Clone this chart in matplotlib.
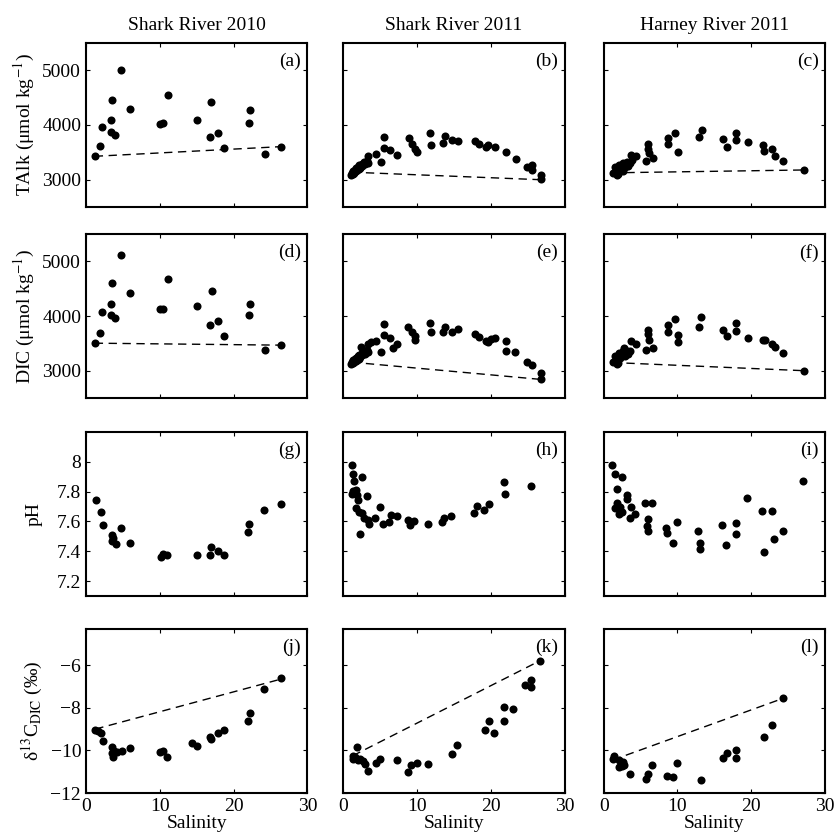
import matplotlib
matplotlib.use('Agg')
import matplotlib.pyplot as plt

plt.rcParams['font.family'] = ['Liberation Serif', 'DejaVu Serif']
plt.rcParams['mathtext.fontset'] = 'stix'
plt.rcParams['font.size'] = 14

# ============================================================
# Data (salinity vs carbonate parameters)
# ============================================================

# (a) TAlk, Shark River 2010
s_a = [1.18, 1.86, 2.17, 3.39, 3.53, 3.39, 3.98, 4.71, 5.93, 10.05, 10.4, 11.04,
       15.07, 16.97, 16.83, 17.87, 18.73, 22.08, 22.22, 24.2, 26.47]
y_a = [3427, 3610, 3957, 4085, 4463, 3872, 3811, 5000, 4293, 4012, 4030, 4555,
       4085, 4421, 3774, 3860, 3573, 4043, 4274, 3470, 3604]
mix_s_a = [1.18, 26.47]
mix_y_a = [3427, 3604]

# (b) TAlk, Shark River 2011
s_b = [1.1, 1.2, 1.3, 1.4, 1.5, 1.6, 1.7, 1.8, 1.9, 2.0, 2.1, 2.2, 2.3, 2.5, 2.6,
       2.8, 3.0, 3.2, 3.4, 3.32, 4.44, 5.07, 5.56, 5.6, 6.33, 7.31, 8.88, 9.33,
       9.69, 10.0, 11.71, 11.94, 13.59, 13.77, 14.8, 15.57, 17.8, 18.44, 19.34,
       19.65, 20.55, 22.03, 23.38, 24.86, 25.53, 25.62, 26.74, 26.74]
y_b = [3090, 3130, 3100, 3160, 3130, 3180, 3150, 3210, 3170, 3240, 3190, 3260, 3220,
       3290, 3250, 3320, 3280, 3350, 3300, 3427, 3476, 3317, 3780, 3586, 3537, 3451,
       3768, 3659, 3555, 3500, 3860, 3628, 3671, 3806, 3733, 3702, 3707, 3659, 3597,
       3628, 3597, 3500, 3385, 3232, 3275, 3171, 3079, 3006]
mix_s_b = [1.2, 26.7]
mix_y_b = [3136, 2999]

# (c) TAlk, Harney River 2011
s_c = [1.32, 1.68, 1.54, 1.99, 2.21, 2.44, 2.66, 2.13, 2.89, 3.11, 3.33, 3.56, 3.78,
       2.66, 1.86, 3.69, 4.36, 5.7, 6.02, 6.02, 6.15, 6.69, 8.7, 8.7, 9.6, 10.09,
       12.91, 13.27, 16.22, 16.67, 17.96, 17.96, 19.53, 21.54, 21.77, 22.84, 23.24,
       24.23, 27.14]
y_c = [3122, 3153, 3226, 3104, 3196, 3257, 3300, 3275, 3226, 3318, 3257, 3300, 3361,
       3165, 3080, 3459, 3434, 3349, 3654, 3563, 3489, 3398, 3765, 3654, 3850, 3502,
       3771, 3899, 3746, 3593, 3856, 3734, 3685, 3642, 3520, 3563, 3428, 3343, 3177]
mix_s_c = [1.2, 27.14]
mix_y_c = [3125, 3177]

# (d) DIC, Shark River 2010
s_d = [1.18, 1.86, 2.17, 3.39, 3.53, 3.35, 3.98, 4.71, 5.93, 10.0, 10.45, 11.04,
       15.07, 17.01, 16.83, 17.87, 18.73, 22.08, 22.22, 24.2, 26.47]
y_d = [3503, 3691, 4067, 4218, 4606, 4012, 3958, 5109, 4412, 4133, 4133, 4679,
       4176, 4461, 3842, 3915, 3636, 4018, 4218, 3370, 3467]
mix_s_d = [1.18, 26.47]
mix_y_d = [3503, 3467]

# (e) DIC, Shark River 2011
s_e = [1.1, 1.2, 1.3, 1.4, 1.5, 1.6, 1.7, 1.8, 1.9, 2.0, 2.1, 2.2, 2.3, 2.5, 2.6,
       2.8, 3.0, 3.2, 3.4, 2.42, 3.41, 3.72, 4.44, 5.07, 5.56, 5.6, 6.33, 6.69, 7.36,
       8.84, 9.33, 9.78, 9.69, 11.71, 11.94, 13.55, 13.73, 14.8, 15.52, 17.9, 18.44,
       19.34, 19.56, 20.01, 20.55, 22.03, 22.03, 23.28, 24.86, 25.53, 26.74, 26.8]
y_e = [3130, 3160, 3140, 3190, 3160, 3210, 3180, 3240, 3200, 3270, 3220, 3290, 3250,
       3320, 3280, 3350, 3310, 3380, 3340, 3442, 3485, 3527, 3545, 3345, 3855, 3655,
       3606, 3418, 3485, 3800, 3703, 3642, 3558, 3879, 3709, 3715, 3794, 3715, 3764,
       3667, 3612, 3545, 3533, 3582, 3594, 3545, 3352, 3333, 3152, 3109, 2952, 2848]
mix_s_e = [1.2, 26.8]
mix_y_e = [3155, 2840]

# (f) DIC, Harney River 2011
s_f = [1.32, 1.68, 1.54, 1.99, 2.21, 2.44, 2.66, 2.13, 2.89, 3.11, 3.33, 3.56, 2.75,
       1.77, 3.65, 4.36, 5.7, 6.02, 6.02, 6.15, 6.69, 8.7, 8.7, 9.6, 10.09, 10.13,
       12.91, 13.22, 16.22, 16.67, 17.96, 17.96, 19.53, 21.54, 21.8, 22.84, 23.24,
       24.23, 27.09]
y_f = [3158, 3194, 3267, 3133, 3236, 3297, 3358, 3315, 3267, 3358, 3297, 3358, 3418,
       3115, 3539, 3497, 3376, 3752, 3673, 3570, 3412, 3842, 3709, 3945, 3655, 3533,
       3800, 3982, 3739, 3642, 3867, 3721, 3600, 3570, 3570, 3497, 3430, 3327, 3000]
mix_s_f = [1.2, 27.09]
mix_y_f = [3149, 3000]

# (g) pH, Shark River 2010
s_g = [1.35, 1.98, 2.29, 3.51, 3.51, 3.69, 4.09, 4.76, 5.98, 10.11, 10.43, 11.01,
       15.06, 16.85, 16.94, 17.84, 18.7, 21.93, 22.11, 24.13, 26.43]
y_g = [7.744, 7.665, 7.575, 7.51, 7.467, 7.488, 7.449, 7.555, 7.458, 7.362, 7.382,
       7.378, 7.373, 7.375, 7.431, 7.404, 7.375, 7.528, 7.584, 7.679, 7.719]

# (h) pH, Shark River 2011
s_h = [1.15, 1.38, 1.48, 2.49, 1.38, 1.71, 1.94, 1.25, 2.03, 1.71, 2.17, 2.54, 3.18,
       2.86, 3.32, 3.55, 2.26, 4.34, 4.98, 5.4, 6.18, 6.46, 7.24, 8.77, 9.09, 9.55,
       11.54, 13.38, 13.71, 14.63, 17.72, 18.18, 19.1, 19.75, 21.78, 21.87, 25.43]
y_h = [7.982, 7.921, 7.873, 7.898, 7.801, 7.812, 7.779, 7.785, 7.745, 7.688, 7.666,
       7.654, 7.774, 7.62, 7.609, 7.582, 7.514, 7.623, 7.699, 7.584, 7.595, 7.643,
       7.638, 7.609, 7.575, 7.605, 7.586, 7.598, 7.62, 7.636, 7.654, 7.704, 7.677,
       7.715, 7.864, 7.785, 7.835]

# (i) pH, Harney River 2011
s_i = [1.16, 1.48, 2.5, 1.8, 3.19, 3.1, 1.8, 2.27, 1.57, 2.5, 2.03, 3.65, 4.25, 3.51,
       5.59, 6.56, 5.96, 5.83, 5.96, 8.51, 8.6, 9.99, 9.43, 12.76, 13.04, 13.04,
       16.09, 16.55, 17.89, 17.89, 19.37, 21.45, 22.84, 21.78, 23.12, 24.23, 26.95]
y_i = [7.982, 7.921, 7.898, 7.817, 7.779, 7.749, 7.722, 7.699, 7.688, 7.666, 7.65,
       7.695, 7.647, 7.62, 7.722, 7.722, 7.616, 7.568, 7.537, 7.553, 7.523, 7.598,
       7.458, 7.534, 7.455, 7.417, 7.575, 7.444, 7.593, 7.514, 7.756, 7.669, 7.672,
       7.392, 7.48, 7.534, 7.871]

# (j) d13C-DIC, Shark River 2010
s_j = [1.26, 1.57, 1.98, 2.25, 3.51, 3.51, 3.69, 3.82, 4.18, 4.81, 5.98, 9.98, 10.43,
       11.01, 14.29, 15.06, 16.76, 16.94, 17.84, 18.7, 21.93, 22.16, 24.13, 26.43]
y_j = [-9.02, -9.08, -9.17, -9.58, -9.86, -10.14, -10.33, -10.02, -10.09, -10.05,
       -9.89, -10.09, -10.02, -10.3, -9.66, -9.81, -9.36, -9.48, -9.16, -9.06, -8.64,
       -8.22, -7.13, -6.61]
mix_s_j = [1.26, 26.43]
mix_y_j = [-9.0, -6.65]

# (k) d13C-DIC, Shark River 2011
s_k = [1.36, 1.27, 1.59, 1.81, 2.04, 2.27, 2.72, 2.95, 3.31, 4.4, 5.03, 7.25, 8.79,
       9.15, 9.97, 11.55, 14.68, 15.41, 19.17, 19.8, 20.39, 21.84, 21.84, 23.02,
       24.69, 25.42, 25.51, 26.6]
y_k = [-10.24, -10.39, -10.31, -9.85, -10.47, -10.39, -10.52, -10.63, -10.97, -10.6,
       -10.42, -10.47, -11.0, -10.7, -10.6, -10.63, -10.16, -9.74, -9.04, -8.6, -9.18,
       -8.63, -7.98, -8.04, -6.92, -6.69, -7.01, -5.8]
mix_s_k = [1.3, 26.6]
mix_y_k = [-10.25, -5.8]

# (l) d13C-DIC, Harney River 2011
s_l = [1.23, 1.45, 2.05, 2.36, 2.14, 2.68, 2.5, 2.82, 3.59, 5.77, 6.0, 6.59, 8.59,
       9.41, 9.95, 13.14, 16.14, 16.68, 17.95, 17.95, 21.77, 22.82, 24.27]
y_l = [-10.41, -10.24, -10.47, -10.63, -10.78, -10.55, -10.74, -10.7, -11.09, -11.33,
       -11.09, -10.67, -11.2, -11.25, -10.6, -11.37, -10.35, -10.11, -9.96, -10.36,
       -9.35, -8.79, -7.56]
mix_s_l = [1.23, 24.27]
mix_y_l = [-10.45, -7.56]

col_titles = ['Shark River 2010', 'Shark River 2011', 'Harney River 2011']
row_labels = ['TAlk (μmol kg$^{-1}$)', 'DIC (μmol kg$^{-1}$)', 'pH',
              'δ$^{13}$C$_{\\mathrm{DIC}}$ (‰)']
row_labelpads = [4, 4, 10, 4]
row_ylims = [(2500, 5500), (2500, 5500), (7.1, 8.2), (-12, -4.3)]
row_yticks = [[3000, 4000, 5000], [3000, 4000, 5000],
              [7.2, 7.4, 7.6, 7.8, 8.0], [-12, -10, -8, -6]]
row_yticklabels = [['3000', '4000', '5000'], ['3000', '4000', '5000'],
                   ['7.2', '7.4', '7.6', '7.8', '8'],
                   ['\u221212', '\u221210', '\u22128', '\u22126']]
xticks = [0, 10, 20, 30]

panels = [
    [(s_a, y_a, mix_s_a, mix_y_a), (s_b, y_b, mix_s_b, mix_y_b), (s_c, y_c, mix_s_c, mix_y_c)],
    [(s_d, y_d, mix_s_d, mix_y_d), (s_e, y_e, mix_s_e, mix_y_e), (s_f, y_f, mix_s_f, mix_y_f)],
    [(s_g, y_g, None, None), (s_h, y_h, None, None), (s_i, y_i, None, None)],
    [(s_j, y_j, mix_s_j, mix_y_j), (s_k, y_k, mix_s_k, mix_y_k), (s_l, y_l, mix_s_l, mix_y_l)],
]
letters = 'abcdefghijkl'

# ============================================================
# Figure
# ============================================================
fig = plt.figure(figsize=(8.39, 8.39), dpi=100)
lefts = [0.1025, 0.409, 0.7195]
bottoms = [0.7533, 0.5256, 0.2896, 0.0548]
w, h = 0.264, 0.1955

for r in range(4):
    for c in range(3):
        ax = fig.add_axes([lefts[c], bottoms[r], w, h])
        s, y, ms, my = panels[r][c]
        if ms is not None:
            ax.plot(ms, my, color='black', linestyle=(0, (6, 4)), linewidth=1.0)
        ax.plot(s, y, 'o', color='black', markersize=5.8, markeredgewidth=0)

        ax.set_xlim(0, 30)
        ax.set_ylim(*row_ylims[r])
        ax.set_xticks(xticks)
        ax.set_yticks(row_yticks[r])
        ax.tick_params(direction='in', top=True, right=True, length=3, width=0.8,
                       labelsize=14)
        for sp in ax.spines.values():
            sp.set_linewidth(1.5)

        if r == 3:
            ax.set_xticklabels([str(t) for t in xticks])
            ax.set_xlabel('Salinity', fontsize=14, labelpad=0)
        else:
            ax.set_xticklabels([])
        if c == 0:
            ax.set_yticklabels(row_yticklabels[r])
            ax.set_ylabel(row_labels[r], fontsize=14, labelpad=row_labelpads[r])
        else:
            ax.set_yticklabels([])
        if r == 0:
            ax.set_title(col_titles[c], fontsize=14, pad=9)

        ax.text(0.97, 0.94, '(' + letters[r * 3 + c] + ')', transform=ax.transAxes,
                ha='right', va='top', fontsize=14)

fig.savefig('out.png', dpi=100)
